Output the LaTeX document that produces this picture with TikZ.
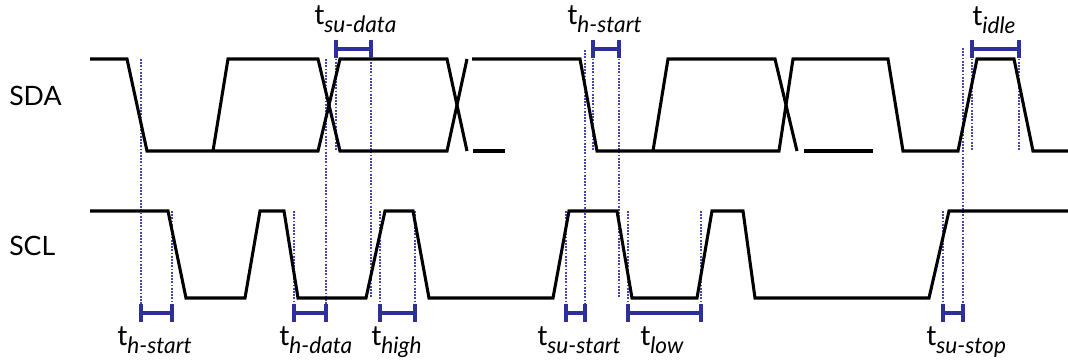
\documentclass[tikz,border=0pt]{standalone}
\usepackage{fontspec}
\setmainfont{Lato}
\usepackage{tikz}
\usetikzlibrary{calc}

\definecolor{guideblue}{RGB}{70,70,175}
\definecolor{spanblue}{RGB}{45,48,150}

\tikzset{
  signal/.style={line width=2.3pt, line join=miter, black},
  guide/.style={densely dotted, line width=1.4pt, guideblue},
  span/.style={line width=2.5pt, spanblue},
  lbl/.style={inner sep=0pt, anchor=base west, font=\fontsize{21pt}{23pt}\selectfont},
  sig/.style={inner sep=0pt, anchor=west, font=\fontsize{20pt}{22pt}\selectfont}
}
% timing label: t with italic subscript
\newcommand{\tlbl}[1]{t\raisebox{-6pt}{\fontsize{17pt}{19pt}\selectfont\itshape #1}}
% interval bracket from x1 to x2 at height y
\newcommand{\spanbar}[3]{%
  \draw[span] (#1,#3-9) -- (#1,#3+9);
  \draw[span] (#2,#3-9) -- (#2,#3+9);
  \draw[span] (#1,#3) -- (#2,#3);}

\begin{document}
\begin{tikzpicture}[x=0.75pt, y=-0.75pt]
  \useasboundingbox (0,0) rectangle (1068,362);

  % Signal names
  \node[sig] (sda) at (9,96) {SDA};
  \node[sig] (scl) at (9,246) {SCL};

  % Guide lines (dotted)
  \draw[guide] (141,59) -- (141,313);
  \draw[guide] (172,211) -- (172,313);
  \draw[guide] (294,211) -- (294,313);
  \draw[guide] (326,59) -- (326,313);
  \draw[guide] (336,49) -- (336,151);
  \draw[guide] (371,49) -- (371,298);
  \draw[guide] (380,211) -- (380,313);
  \draw[guide] (415,211) -- (415,313);
  \draw[guide] (566,211) -- (566,313);
  \draw[guide] (585,50) -- (585,313);
  \draw[guide] (593,49) -- (593,151);
  \draw[guide] (619,49) -- (619,298);
  \draw[guide] (628,211) -- (628,313);
  \draw[guide] (701,211) -- (701,313);
  \draw[guide] (943,211) -- (943,313);
  \draw[guide] (963,48) -- (963,313);
  \draw[guide] (972,49) -- (972,151);
  \draw[guide] (1019,49) -- (1019,151);

  % SDA line
  \draw[signal] (90,59) -- (127,59) -- (147,151) -- (318,151) -- (340,59) -- (447,59) -- (467,151);
  \draw[signal] (213,151) -- (228,59) -- (318,59) -- (340,151) -- (447,151) -- (467,59);
  \draw[signal] (473,151) -- (505,151);
  \draw[signal] (472,59) -- (580,59) -- (597,151) -- (779,151) -- (793,59) -- (888,59)
    -- (903,151) -- (958,151) -- (977,59) -- (1014,59) -- (1033,151) -- (1068,151);
  \draw[signal] (653,151) -- (668,59) -- (775,59) -- (797,151);
  \draw[signal] (804,151) -- (873,151);

  % SCL line
  \draw[signal] (90,211) -- (168,211) -- (186,298) -- (245,298) -- (260,211) -- (284,211)
    -- (298,298) -- (366,298) -- (385,211) -- (413,211) -- (429,298) -- (553,298)
    -- (569,211) -- (617,211) -- (632,298) -- (697,298) -- (712,211) -- (743,211)
    -- (755,298) -- (929,298) -- (949,211) -- (1068,211);

  % Intervals above SDA
  \spanbar{336}{371}{49}
  \spanbar{593}{619}{49}
  \spanbar{972}{1019}{49}

  % Intervals below SCL
  \spanbar{141}{172}{313}
  \spanbar{294}{326}{313}
  \spanbar{380}{415}{313}
  \spanbar{566}{585}{313}
  \spanbar{628}{701}{313}
  \spanbar{943}{963}{313}

  % Interval names
  \node[lbl] (tsudata) at (314,24) {\tlbl{su-data}};
  \node[lbl] (thstarta) at (567,24) {\tlbl{h-start}};
  \node[lbl] (tidle) at (972,25) {\tlbl{idle}};
  \node[lbl] (thstartb) at (117,345) {\tlbl{h-start}};
  \node[lbl] (thdata) at (279,345) {\tlbl{h-data}};
  \node[lbl] (thigh) at (371,345) {\tlbl{high}};
  \node[lbl] (tsustart) at (537,345) {\tlbl{su-start}};
  \node[lbl] (tlow) at (640,345) {\tlbl{low}};
  \node[lbl] (tsustop) at (926,345) {\tlbl{su-stop}};
\end{tikzpicture}
\end{document}
